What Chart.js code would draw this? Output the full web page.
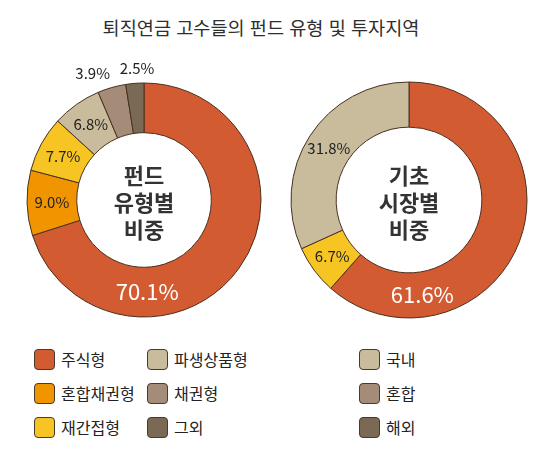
<!DOCTYPE html>
<html lang="ko">
<head>
    <meta charset="UTF-8">
    <title>퇴직연금 고수들의 펀드 유형 및 투자지역</title>
    <script src="https://cdn.jsdelivr.net/npm/chart.js"></script>
    <style>
        body {
            margin: 0;
            width: 553px;
            height: 454px;
            background: #ffffff;
            font-family: "Noto Sans CJK KR", "Noto Sans", sans-serif;
            color: #333;
            position: relative;
            overflow: hidden;
        }
        h1 {
            position: absolute;
            left: 0;
            top: 14px;
            width: 522px;
            margin: 0;
            text-align: center;
            font-size: 18.6px;
            font-weight: normal;
            color: #2e2e2e;
            line-height: 26px;
        }
        .box {
            position: absolute;
            top: 50px;
            height: 290px;
        }
        .legend {
            position: absolute;
            font-size: 16px;
            color: #222;
        }
        .legend .item {
            position: absolute;
            white-space: nowrap;
            height: 22px;
            line-height: 22px;
        }
        .legend .sw {
            display: inline-block;
            width: 19px;
            height: 19px;
            border: 1px solid #4a3a2a;
            border-radius: 4px;
            vertical-align: middle;
            margin-right: 6px;
            position: relative;
            top: -2px;
        }
    </style>
</head>
<body>
    <h1>퇴직연금 고수들의 펀드 유형 및 투자지역</h1>
    <div class="box" style="left:0;width:280px"><canvas id="fund-chart"></canvas></div>
    <div class="box" style="left:280px;width:273px"><canvas id="region-chart"></canvas></div>
    <div class="legend" id="fund-legend"></div>
    <div class="legend" id="region-legend"></div>

    <script>
        // 펀드 유형별 비중
        const fundLabels = ['주식형', '혼합채권형', '재간접형', '파생상품형', '채권형', '그외'];
        const fundValues = [70.1, 9.0, 7.7, 6.8, 3.9, 2.5];
        const fundColors = ['#d35b31', '#f09500', '#f6c523', '#c9bc9c', '#a48c78', '#7a6a55'];

        // 기초 시장별 비중
        const regionValues = [61.6, 6.7, 31.8];
        const regionColors = ['#d35b31', '#f6c523', '#c9bc9c'];
        const regionLegendLabels = ['국내', '혼합', '해외'];
        const regionLegendColors = ['#c9bc9c', '#a48c78', '#7a6a55'];

        // 중앙 텍스트
        const fundCenter = ['펀드', '유형별', '비중'];
        const regionCenter = ['기초', '시장별', '비중'];

        // 라벨 그리기 플러그인
        const labelPlugin = {
            id: 'pctLabels',
            afterDatasetsDraw(chart, args, opts) {
                const ctx = chart.ctx;
                const meta = chart.getDatasetMeta(0);
                const values = chart.data.datasets[0].data;
                const first = meta.data[0];
                const cx = first.x, cy = first.y;
                ctx.save();
                ctx.textAlign = 'center';
                ctx.textBaseline = 'middle';
                meta.data.forEach((arc, i) => {
                    let pos = arc.tooltipPosition();
                    const o = opts.overrides[i];
                    if (o) {
                        const a = o.angle * Math.PI / 180;
                        pos = { x: cx + o.r * Math.sin(a), y: cy - o.r * Math.cos(a) };
                    }
                    const big = opts.big.includes(i);
                    ctx.fillStyle = big ? '#ffffff' : '#222222';
                    ctx.font = big ? '22px "Noto Sans CJK KR"' : '15px "Noto Sans CJK KR"';
                    ctx.fillText(values[i].toFixed(1) + '%', pos.x, pos.y);
                });
                // 중앙 텍스트
                ctx.fillStyle = '#333333';
                ctx.font = 'bold 22px "Noto Sans CJK KR"';
                opts.center.forEach((t, k) => {
                    ctx.fillText(t, cx, cy + 3 + (k - 1) * 27);
                });
                ctx.restore();
            }
        };

        function makeDonut(id, values, colors, radius, padding, labelOpts) {
            return new Chart(document.getElementById(id), {
                type: 'doughnut',
                data: {
                    labels: values.map((v, i) => String(i)),
                    datasets: [{
                        data: values,
                        backgroundColor: colors,
                        borderColor: '#4a3020',
                        borderWidth: 1,
                        radius: radius,
                        cutout: 67
                    }]
                },
                options: {
                    responsive: true,
                    maintainAspectRatio: false,
                    animation: false,
                    layout: { padding: padding },
                    plugins: {
                        legend: { display: false },
                        tooltip: { enabled: false },
                        pctLabels: labelOpts
                    }
                },
                plugins: [labelPlugin]
            });
        }

        makeDonut('fund-chart', fundValues, fundColors, 117,
            { left: 27, right: 19, top: 33, bottom: 23 },
            {
                big: [0],
                center: fundCenter,
                overrides: {
                    0: { angle: 178, r: 92 },
                    4: { angle: 338, r: 137 },
                    5: { angle: 357, r: 132 }
                }
            });

        makeDonut('region-chart', regionValues, regionColors, 118,
            { left: 20, right: 35, top: 33, bottom: 23 },
            {
                big: [0],
                center: regionCenter,
                overrides: {
                    0: { angle: 172, r: 96 }
                }
            });

        // 범례
        function buildLegend(el, labels, colors, cols, left, top) {
            el.style.left = left + 'px';
            el.style.top = top + 'px';
            labels.forEach((label, i) => {
                const item = document.createElement('div');
                item.className = 'item';
                item.style.left = cols[Math.floor(i / 3)] + 'px';
                item.style.top = (i % 3) * 34 + 'px';
                item.innerHTML = '<span class="sw" style="background:' + colors[i] + '"></span>' + label;
                el.appendChild(item);
            });
        }
        buildLegend(document.getElementById('fund-legend'), fundLabels, fundColors, [0, 113], 34, 348);
        buildLegend(document.getElementById('region-legend'), regionLegendLabels, regionLegendColors, [0], 359, 348);
    </script>
</body>
</html>
